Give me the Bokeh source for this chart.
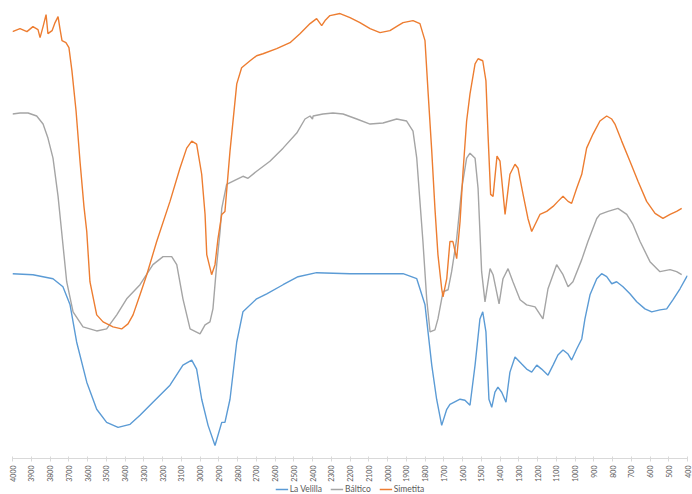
from math import pi
from bokeh.plotting import figure
from bokeh.layouts import column
from bokeh.models import Range1d, FixedTicker, Legend, LegendItem
from bokeh.embed import file_html
from bokeh.resources import INLINE

# Wavenumber (cm-1) and relative transmittance (arbitrary units)
velilla_wn = [4000, 3891, 3784, 3731, 3693, 3658, 3604, 3551, 3498, 3437, 3373, 3320, 3251, 3160, 3091,
              3044, 3018, 2991, 2957, 2920, 2884, 2867, 2840, 2804, 2771, 2698, 2644, 2557, 2477, 2378,
              2200, 2024, 1917, 1844, 1800, 1764, 1738, 1711, 1684, 1667, 1613, 1587, 1560, 1533, 1507,
              1492, 1475, 1459, 1444, 1427, 1411, 1391, 1368, 1347, 1320, 1284, 1258, 1231, 1204, 1178,
              1144, 1117, 1091, 1064, 1037, 1018, 991, 964, 947, 920, 884, 858, 831, 804, 778,
              744, 707, 671, 627, 591, 547, 511, 478, 440, 404, 400]
velilla_t = [184, 183, 179, 171, 153, 116, 76, 49, 36, 31, 34, 43, 56, 73, 93,
             98, 89, 59, 33, 13, 36, 36, 59, 116, 146, 159, 164, 173, 181, 185,
             184, 184, 184, 179, 153, 93, 59, 33, 49, 54, 59, 58, 53, 93, 139,
             146, 126, 59, 51, 66, 71, 66, 56, 86, 101, 94, 89, 86, 93, 89,
             83, 93, 103, 108, 104, 98, 109, 119, 139, 163, 179, 184, 181, 174, 176,
             171, 164, 156, 149, 146, 148, 149, 158, 169, 181, 182]

baltico_wn = [4000, 3960, 3917, 3871, 3837, 3811, 3784, 3757, 3738, 3711, 3677, 3624, 3551, 3498, 3444,
              3391, 3320, 3251, 3197, 3151, 3124, 3091, 3053, 3000, 2973, 2947, 2931, 2911, 2893, 2884,
              2858, 2804, 2771, 2744, 2698, 2627, 2557, 2484, 2440, 2413, 2400, 2397, 2344, 2291, 2237,
              2164, 2093, 2024, 1951, 1898, 1864, 1844, 1827, 1811, 1791, 1773, 1747, 1731, 1704, 1677,
              1658, 1631, 1604, 1578, 1560, 1533, 1517, 1498, 1480, 1453, 1437, 1405, 1384, 1357, 1331,
              1293, 1258, 1213, 1171, 1144, 1098, 1064, 1037, 1011, 964, 931, 884, 867, 824, 771,
              724, 691, 653, 600, 547, 493, 458, 431]
baltico_t = [343, 344, 344, 341, 333, 319, 299, 261, 226, 176, 146, 131, 127, 129, 143,
             159, 173, 193, 201, 201, 193, 159, 129, 124, 133, 136, 149, 193, 226, 249,
             273, 278, 281, 279, 286, 296, 309, 324, 338, 341, 338, 341, 343, 344, 343,
             338, 333, 334, 338, 336, 326, 299, 256, 216, 159, 126, 128, 139, 166, 168,
             186, 219, 269, 299, 304, 299, 269, 186, 156, 189, 183, 154, 179, 189, 176,
             158, 153, 151, 139, 169, 193, 183, 171, 176, 198, 216, 239, 243, 246, 249,
             243, 233, 216, 196, 186, 188, 186, 183]

simetita_wn = [4000, 3960, 3923, 3891, 3864, 3853, 3837, 3821, 3811, 3789, 3773, 3757, 3747, 3736, 3715,
               3699, 3683, 3661, 3640, 3619, 3604, 3587, 3551, 3517, 3464, 3418, 3384, 3357, 3320, 3284,
               3231, 3160, 3107, 3071, 3044, 3018, 2991, 2973, 2964, 2938, 2920, 2904, 2884, 2867, 2840,
               2804, 2778, 2733, 2698, 2664, 2591, 2520, 2467, 2413, 2378, 2351, 2333, 2307, 2253, 2200,
               2147, 2093, 2040, 1987, 1944, 1917, 1864, 1827, 1800, 1784, 1764, 1747, 1731, 1711, 1704,
               1684, 1667, 1651, 1631, 1613, 1597, 1578, 1560, 1533, 1517, 1492, 1475, 1464, 1450, 1437,
               1416, 1400, 1373, 1347, 1320, 1304, 1277, 1251, 1231, 1213, 1187, 1151, 1117, 1091, 1064,
               1037, 1018, 991, 964, 938, 904, 867, 831, 804, 787, 751, 707, 664, 618, 573,
               531, 493, 458, 431]
simetita_t = [425, 428, 425, 430, 427, 419, 430, 442, 423, 426, 434, 440, 428, 416, 414,
              409, 386, 346, 296, 251, 226, 176, 143, 136, 131, 129, 134, 143, 163, 183,
              216, 256, 289, 309, 316, 313, 283, 243, 203, 183, 193, 219, 243, 246, 306,
              373, 389, 396, 401, 403, 408, 414, 423, 433, 438, 431, 436, 441, 443, 439,
              434, 428, 424, 426, 431, 434, 436, 433, 416, 366, 306, 249, 203, 169, 161,
              179, 216, 216, 199, 236, 286, 336, 363, 393, 398, 396, 376, 323, 263, 261,
              301, 296, 243, 283, 293, 289, 263, 239, 226, 233, 243, 246, 251, 256, 261,
              256, 254, 269, 283, 309, 323, 336, 341, 338, 333, 316, 296, 276, 256, 244,
              239, 243, 246, 249]

series_names = ["La Velilla", "Báltico", "Simetita"]
tick_values = list(range(400, 4001, 100))

colors = ["#5B9BD5", "#A5A5A5", "#ED7D31"]
font = "Lato"

p = figure(width=692, height=484, output_backend="svg", toolbar_location=None,
           x_range=Range1d(4000, 400), y_range=Range1d(0, 456),
           y_axis_location=None, min_border_left=12, min_border_right=5,
           min_border_top=0, min_border_bottom=0)
p.outline_line_color = None
p.xgrid.visible = False
p.ygrid.visible = False

p.line(velilla_wn, velilla_t, line_color=colors[0], line_width=1.4)
p.line(baltico_wn, baltico_t, line_color=colors[1], line_width=1.4)
p.line(simetita_wn, simetita_t, line_color=colors[2], line_width=1.4)

ax = p.xaxis[0]
ax.ticker = FixedTicker(ticks=tick_values)
ax.axis_label = None
ax.minor_tick_line_color = None
ax.major_tick_in = 2
ax.major_tick_out = 3
ax.major_tick_line_color = "#D9D9D9"
ax.axis_line_color = "#D9D9D9"
ax.major_label_orientation = pi / 2
ax.major_label_text_font = font
ax.major_label_text_font_size = "7px"
ax.major_label_text_color = "#595959"
ax.major_label_standoff = 4

# legend strip below the chart (its renderers sit outside the strip's ranges)
lg = figure(width=692, height=10, output_backend="svg", toolbar_location=None,
            x_range=Range1d(0, 1), y_range=Range1d(0, 1),
            x_axis_location=None, y_axis_location=None,
            min_border_left=12, min_border_right=5, min_border_top=0, min_border_bottom=0)
lg.outline_line_color = None
lg.border_fill_color = None
lg.background_fill_color = None
lg.xgrid.visible = False
lg.ygrid.visible = False
g1 = lg.line(velilla_wn[:2], velilla_t[:2], line_color=colors[0], line_width=1.4)
g2 = lg.line(baltico_wn[:2], baltico_t[:2], line_color=colors[1], line_width=1.4)
g3 = lg.line(simetita_wn[:2], simetita_t[:2], line_color=colors[2], line_width=1.4)
legend = Legend(items=[LegendItem(label=series_names[0], renderers=[g1]),
                       LegendItem(label=series_names[1], renderers=[g2]),
                       LegendItem(label=series_names[2], renderers=[g3])],
                orientation="horizontal", location="center",
                label_text_font=font, label_text_font_size="8.5px", label_text_color="#595959",
                glyph_width=13, glyph_height=8, label_standoff=2, spacing=8,
                padding=0, margin=0, border_line_color=None, background_fill_alpha=0,
                label_height=10)
lg.add_layout(legend)

layout = column(p, lg)
open("out.html", "w").write(file_html(layout, INLINE))
